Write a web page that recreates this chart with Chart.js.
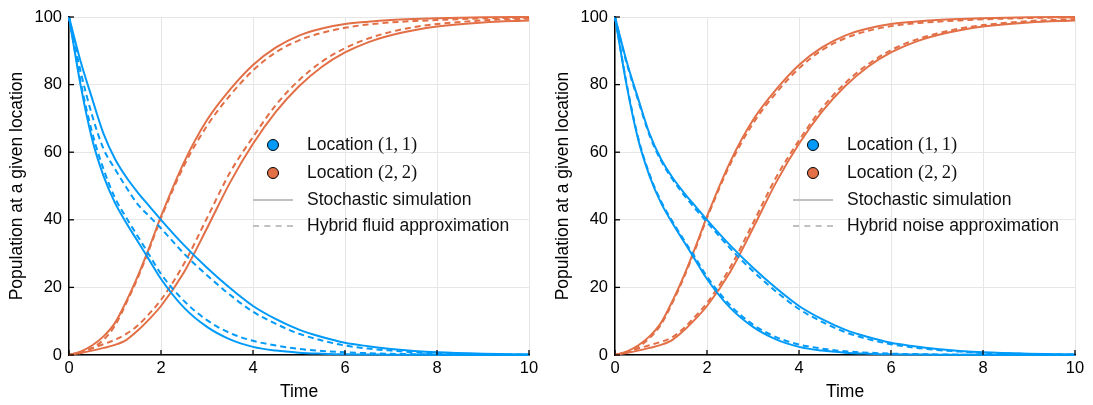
<!DOCTYPE html>
<html>
<head>
<meta charset="utf-8">
<script src="https://cdn.jsdelivr.net/npm/chart.js@4.4.1/dist/chart.umd.min.js"></script>
<style>
body{margin:0;background:#fff;width:1093px;height:405px;overflow:hidden;position:relative;font-family:"Liberation Sans",sans-serif;}
.panel{position:absolute;top:0;height:405px;}
.lg{position:absolute;font-size:17.5px;line-height:22px;color:#111;white-space:nowrap;}
.lg .m{font-family:"Liberation Serif",serif;font-size:18.5px;}
.dot{position:absolute;width:10px;height:10px;border:1.5px solid #000;border-radius:50%;}
.ln{position:absolute;height:0;border-top:2.5px solid #c0c0c0;}
.ln.d{border-top-style:dashed;}
</style>
</head>
<body>
<div class="panel" id="p1" style="left:0;width:546px"><canvas id="c1" width="546" height="405"></canvas></div>
<div class="panel" id="p2" style="left:546px;width:547px"><canvas id="c2" width="547" height="405"></canvas></div>
<script>
var time = [0,0.25,0.5,0.75,1,1.25,1.5,1.75,2,2.5,3,3.5,4,4.5,5,5.5,6,6.5,7,7.5,8,9,10];

// stochastic simulation (solid), same in both panels
var blueSimA   = [100,80,64,53,45,39,33.5,28,22.5,14,8.3,4.6,2.4,1.3,0.7,0.4,0.2,0.15,0.1,0.07,0.05,0,0];
var blueSimB   = [100,87,76,65.5,58,52.5,48,44,40,32.5,25.8,19.8,14.5,10.6,7.5,5.3,3.6,2.6,1.8,1.2,0.8,0.4,0.2];
var orangeSimA = [0,1,2.8,5.5,9.5,16,23.5,32,41,57,69.5,78.5,85.8,91,94.5,96.6,97.9,98.6,99.1,99.4,99.6,99.9,100];
var orangeSimB = [0,0.6,1.3,2.1,3,4.5,7.3,10.7,14.5,24.5,37.5,51,62.5,72,79.5,85.3,89.5,92.5,94.6,96.1,97.2,98.4,99];

// hybrid fluid approximation (left, dashed)
var fluidBlueA   = [100,81,66,55,46.5,40.5,35,29.5,24,16,10.3,6.5,4.2,2.8,1.8,1.2,0.8,0.55,0.35,0.25,0.15,0.05,0];
var fluidBlueB   = [100,84,71,61,55,49.5,44.5,41,37.5,30,23.6,17.8,12.8,9.2,6.3,4.3,2.8,1.9,1.3,0.8,0.5,0.2,0.1];
var fluidOrangeA = [0,0.6,2,4.5,8.7,15.5,23,31.5,40.5,56,67.8,76.8,84.2,89.6,93.1,95.3,96.8,97.8,98.4,98.8,99.1,99.6,99.8];
var fluidOrangeB = [0,0.9,2,3.2,4.5,6.3,8.8,12.3,16.3,27,40.5,54,64.5,74,81.3,86.8,90.8,93.6,95.6,97,97.9,99,99.5];

// hybrid noise approximation (right, dashed)
var noiseBlueA   = [100,80.5,64.5,53.5,45.5,39.5,34,28.7,23.2,14.8,9,5.3,3.1,1.9,1.1,0.7,0.4,0.28,0.18,0.1,0.05,0,0];
var noiseBlueB   = [100,86.5,75.5,65,57.5,52,47.3,43.2,39.3,31.6,24.8,18.8,13.6,9.8,6.8,4.7,3.2,2.2,1.5,1.0,0.6,0.3,0.15];
var noiseOrangeA = [0,0.7,2.3,5,9,15.5,23,31.5,40.5,56.3,68.5,77.5,84.8,90.2,93.7,95.9,97.3,98.1,98.6,99,99.3,99.7,99.9];
var noiseOrangeB = [0,0.9,1.9,2.9,3.9,5.3,8,11.5,15.4,25.8,39,52.5,63.5,73,80.4,86,90.2,93.1,95.1,96.6,97.6,98.8,99.4];

var blue = "#009af9";
var orange = "#e26f46";

function pts(vals){
	var out = [];
	for (var i=0; i<time.length; i++){
		out.push({x: time[i], y: vals[i]});
	}
	return out;
}

function ds(vals, color, dashed){
	return {
		data: pts(vals),
		borderColor: color,
		borderWidth: 2,
		borderDash: dashed ? [6,4] : [],
		pointRadius: 0,
		cubicInterpolationMode: "monotone",
		fill: false,
		clip: false
	};
}

// tick marks pointing into the plot
var innerTicks = {
	id: "innerTicks",
	afterDraw: function(chart){
		var ctx = chart.ctx, a = chart.chartArea;
		var xs = chart.scales.x, ys = chart.scales.y;
		ctx.save();
		ctx.strokeStyle = "#000";
		ctx.lineWidth = 1.3;
		xs.ticks.forEach(function(t){
			var px = xs.getPixelForValue(t.value);
			ctx.beginPath(); ctx.moveTo(px, a.bottom); ctx.lineTo(px, a.bottom-5); ctx.stroke();
		});
		ys.ticks.forEach(function(t){
			var py = ys.getPixelForValue(t.value);
			ctx.beginPath(); ctx.moveTo(a.left, py); ctx.lineTo(a.left+5, py); ctx.stroke();
		});
		ctx.restore();
	}
};

var tickFont = {family: "Liberation Sans", size: 16.5};
var titleFont = {family: "Liberation Sans", size: 17.5};

function makeChart(id, sets, rightPad){
	return new Chart(document.getElementById(id), {
		type: "line",
		data: {datasets: sets},
		options: {
			responsive: false,
			animation: false,
			layout: {padding: {top: 17, right: rightPad, left: 0, bottom: 0}},
			plugins: {legend: {display: false}, tooltip: {enabled: false}},
			scales: {
				x: {
					type: "linear", min: 0, max: 10,
					ticks: {stepSize: 2, color: "#000", font: tickFont, padding: 4, maxRotation: 0},
					grid: {color: "#e6e6e6", lineWidth: 1, drawTicks: false},
					border: {color: "#000", width: 1.5},
					title: {display: true, text: "Time", color: "#000", font: titleFont, padding: {top: 0, bottom: 2}},
					afterFit: function(s){ s.height = 50; }
				},
				y: {
					type: "linear", min: 0, max: 100,
					ticks: {stepSize: 20, color: "#000", font: tickFont, padding: 7},
					grid: {color: "#e6e6e6", lineWidth: 1, drawTicks: false},
					border: {color: "#000", width: 1.5},
					title: {display: true, text: "Population at a given location", color: "#000", font: titleFont, padding: {top: 7, bottom: 0}},
					afterFit: function(s){ s.width = 69; }
				}
			}
		},
		plugins: [innerTicks]
	});
}

makeChart("c1", [
	ds(blueSimA, blue, false), ds(blueSimB, blue, false),
	ds(fluidBlueA, blue, true), ds(fluidBlueB, blue, true),
	ds(orangeSimA, orange, false), ds(orangeSimB, orange, false),
	ds(fluidOrangeA, orange, true), ds(fluidOrangeB, orange, true)
], 17);

makeChart("c2", [
	ds(blueSimA, blue, false), ds(blueSimB, blue, false),
	ds(noiseBlueA, blue, true), ds(noiseBlueB, blue, true),
	ds(orangeSimA, orange, false), ds(orangeSimB, orange, false),
	ds(noiseOrangeA, orange, true), ds(noiseOrangeB, orange, true)
], 18);

function legend(panelId, markX, textX, approx){
	var p = document.getElementById(panelId);
	var rows = [145, 173, 200, 226];
	var html = "";
	html += '<div class="dot" style="left:'+(markX-6.5)+'px;top:'+(rows[0]-6.5)+'px;background:'+blue+'"></div>';
	html += '<div class="dot" style="left:'+(markX-6.5)+'px;top:'+(rows[1]-6.5)+'px;background:'+orange+'"></div>';
	html += '<div class="ln" style="left:'+(markX-20)+'px;width:40px;top:'+(rows[2]-1)+'px"></div>';
	html += '<div class="ln d" style="left:'+(markX-20)+'px;width:40px;top:'+(rows[3]-1)+'px"></div>';
	html += '<div class="lg" style="left:'+textX+'px;top:'+(rows[0]-12)+'px">Location <span class="m">(1,&thinsp;1)</span></div>';
	html += '<div class="lg" style="left:'+textX+'px;top:'+(rows[1]-12)+'px">Location <span class="m">(2,&thinsp;2)</span></div>';
	html += '<div class="lg" style="left:'+textX+'px;top:'+(rows[2]-12)+'px">Stochastic simulation</div>';
	html += '<div class="lg" style="left:'+textX+'px;top:'+(rows[3]-12)+'px">'+approx+'</div>';
	p.insertAdjacentHTML("beforeend", html);
}

legend("p1", 273, 307, "Hybrid fluid approximation");
legend("p2", 267, 301, "Hybrid noise approximation");
</script>
</body>
</html>
